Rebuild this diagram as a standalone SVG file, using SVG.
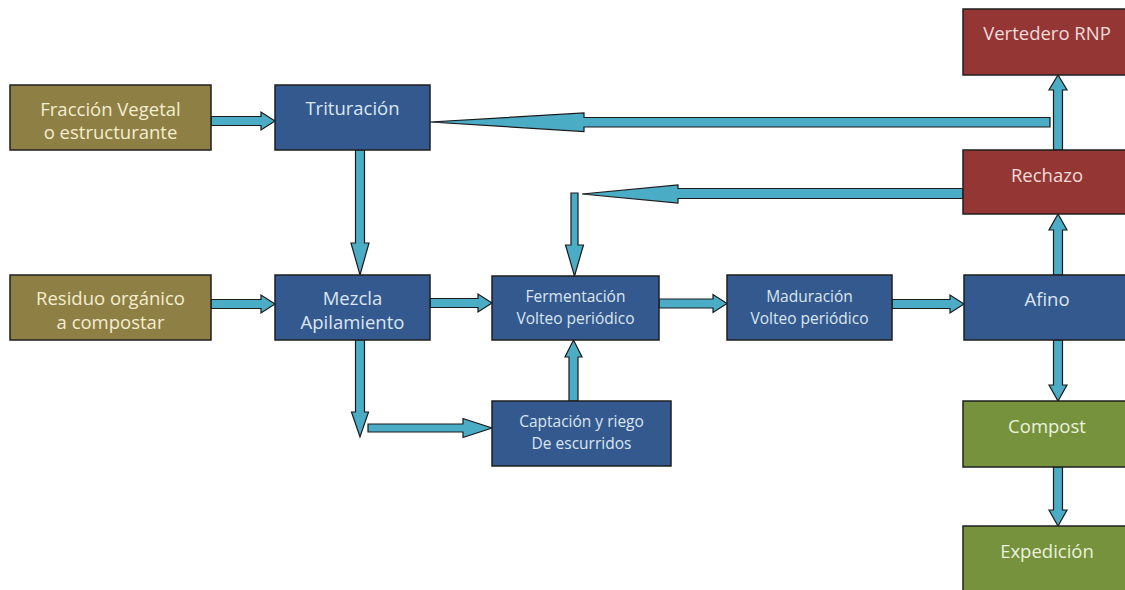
<svg xmlns="http://www.w3.org/2000/svg" width="1125" height="590" viewBox="0 0 1125 590">
<style>
.box{stroke:#1f1f1f;stroke-width:1.5}
.olive{fill:#8E7F44}
.blue{fill:#33598E}
.red{fill:#943634}
.green{fill:#76923C}
.t{font-family:"Open Sans","Noto Sans","DejaVu Sans",sans-serif;text-anchor:middle}
.tl{font-size:18.5px}
.ts{font-size:15.5px}
.to{fill:#F3EED0}
.tb{fill:#DCE6F2}
.tr{fill:#F2DCDB}
.tg{fill:#EBF1DE}
.arr{fill:#4BACC6;stroke:#1a1a1a;stroke-width:1.2;stroke-linejoin:miter}
</style>
<rect width="1125" height="590" fill="#ffffff"/>
<g id="connectors">
  <polygon class="arr" points="211,116.5 261,116.5 261,112 275,121 261,130 261,125.5 211,125.5"/>
  <polygon class="arr" points="211,299.5 261,299.5 261,295 275,304 261,313 261,308.5 211,308.5"/>
  <polygon class="arr" points="355.5,150 364.5,150 364.5,243 369,243 360,275 351,243 355.5,243"/>
  <polygon class="arr" points="430,298.5 478,298.5 478,294 492,303 478,312 478,307.5 430,307.5"/>
  <polygon class="arr" points="355.5,340 364.5,340 364.5,412 368.5,412 360,437 351.5,412 355.5,412"/>
  <polygon class="arr" points="368,424 463,424 463,418.5 492,428 463,437.5 463,432 368,432"/>
  <polygon class="arr" points="569,401 578,401 578,357 582,357 573.5,340 565,357 569,357"/>
  <polygon class="arr" points="659,299 713,299 713,294.5 727,303.5 713,312.5 713,308 659,308"/>
  <polygon class="arr" points="892,299.5 950,299.5 950,295 964,304 950,313 950,308.5 892,308.5"/>
  <polygon class="arr" points="1053.5,275 1062.5,275 1062.5,230 1067,230 1058,214 1049,230 1053.5,230"/>
  <polygon class="arr" points="1053.5,150 1062.5,150 1062.5,90 1067,90 1058,75 1049,90 1053.5,90"/>
  <polygon class="arr" points="1050,117.5 584,117.5 584,113 430,122 584,131.5 584,127 1050,127"/>
  <polygon class="arr" points="963,188.5 678,188.5 678,185 582,194 678,203 678,198.5 963,198.5"/>
  <polygon class="arr" points="571,193 578,193 578,245 583.5,245 574.5,276 565.5,245 571,245"/>
  <polygon class="arr" points="1053.5,340 1062.5,340 1062.5,385 1067,385 1058,401 1049,385 1053.5,385"/>
  <polygon class="arr" points="1053.5,467 1062.5,467 1062.5,510 1067,510 1058,526 1049,510 1053.5,510"/>
</g>
<g id="fraccion">
  <rect class="box olive" x="10" y="85" width="201" height="65"/>
  <text class="t tl to" x="110.5" y="116">Fracción Vegetal</text>
  <text class="t tl to" x="110.5" y="139">o estructurante</text>
</g>
<g id="trituracion">
  <rect class="box blue" x="275" y="85" width="155" height="65"/>
  <text class="t tl tb" x="352.5" y="115">Trituración</text>
</g>
<g id="residuo">
  <rect class="box olive" x="10" y="275" width="201" height="65"/>
  <text class="t tl to" x="110.5" y="305">Residuo orgánico</text>
  <text class="t tl to" x="110.5" y="329">a compostar</text>
</g>
<g id="mezcla">
  <rect class="box blue" x="275" y="275" width="155" height="65"/>
  <text class="t tl tb" x="352.5" y="305">Mezcla</text>
  <text class="t tl tb" x="352.5" y="329">Apilamiento</text>
</g>
<g id="fermentacion">
  <rect class="box blue" x="492" y="276" width="167" height="64"/>
  <text class="t ts tb" x="575.5" y="302">Fermentación</text>
  <text class="t ts tb" x="575.5" y="324">Volteo periódico</text>
</g>
<g id="captacion">
  <rect class="box blue" x="492" y="401" width="179" height="65"/>
  <text class="t ts tb" x="581.5" y="427">Captación y riego</text>
  <text class="t ts tb" x="581.5" y="449">De escurridos</text>
</g>
<g id="maduracion">
  <rect class="box blue" x="727" y="275" width="165" height="65"/>
  <text class="t ts tb" x="809.5" y="302">Maduración</text>
  <text class="t ts tb" x="809.5" y="324">Volteo periódico</text>
</g>
<g id="afino">
  <rect class="box blue" x="964" y="275" width="170" height="65"/>
  <text class="t tl tb" x="1047" y="306">Afino</text>
</g>
<g id="vertedero">
  <rect class="box red" x="963" y="9" width="170" height="66"/>
  <text class="t tl tr" x="1047" y="40">Vertedero RNP</text>
</g>
<g id="rechazo">
  <rect class="box red" x="963" y="150" width="170" height="64"/>
  <text class="t tl tr" x="1047" y="182">Rechazo</text>
</g>
<g id="compost">
  <rect class="box green" x="963" y="401" width="170" height="66"/>
  <text class="t tl tg" x="1047" y="433">Compost</text>
</g>
<g id="expedicion">
  <rect class="box green" x="963" y="526" width="170" height="70"/>
  <text class="t tl tg" x="1047" y="558">Expedición</text>
</g>
</svg>
